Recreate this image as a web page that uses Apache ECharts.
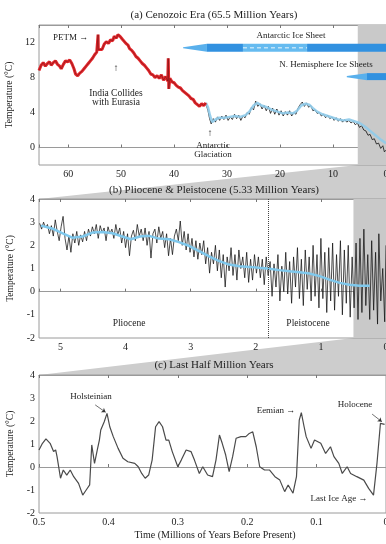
<!DOCTYPE html>
<html>
<head>
<meta charset="UTF-8">
<title>65 Myr Climate Change</title>
<script src="https://cdn.jsdelivr.net/npm/echarts@6.0.0/dist/echarts.min.js"></script>
<style>
html, body { margin: 0; padding: 0; background: #fff; }
#main { width: 386px; height: 544px; }
</style>
</head>
<body>
<div id="main"></div>
<script>
// ---------------------------------------------------------------
// data: [age (Myr before present), temperature (°C)]
// ---------------------------------------------------------------
// (a) Cenozoic, red part (65.5 - 34 Myr)
var cenozoicRed = [
  [65.5,8.8],[65.1,9.4],[64.7,9.7],[64.3,9.3],[63.9,9.6],[63.5,9.8],[63.2,9.4],[62.8,9.7],[62.4,9.9],[62.0,9.5],
  [61.6,9.3],[61.3,9.0],[60.9,9.5],[60.5,9.9],[60.1,9.8],[59.7,10.0],[59.3,9.6],[58.9,9.0],[58.6,8.4],[58.2,8.2],
  [57.8,8.5],[57.4,8.7],[57.0,9.0],[56.6,9.3],[56.2,9.6],[55.8,9.9],[55.4,10.2],[55.0,10.6],[54.6,10.9],[54.4,11.1],
  [54.35,12.9],[54.3,11.2],[54.0,11.4],[53.6,11.2],[53.2,11.8],[52.8,12.1],[52.4,11.9],[52.0,12.3],[51.6,12.2],[51.3,12.7],
  [50.9,12.5],[50.6,12.9],[50.2,12.7],[49.8,12.4],[49.5,12.3],[49.1,11.9],[48.7,11.7],[48.4,11.3],[48.0,11.1],[47.6,10.8],
  [47.2,10.4],[46.8,10.2],[46.4,9.9],[46.0,9.6],[45.6,9.4],[45.2,9.1],[44.8,8.8],[44.4,8.4],[44.0,8.3],[43.6,8.0],
  [43.2,8.2],[42.8,7.9],[42.4,8.3],[42.0,7.7],[41.6,8.1],[41.2,7.6],[41.1,10.2],[41.0,6.7],[40.8,7.9],[40.4,7.5],
  [40.0,7.4],[39.6,7.1],[39.2,6.9],[38.8,6.8],[38.4,6.5],[38.0,6.3],[37.6,6.1],[37.2,5.9],[36.8,5.6],[36.4,5.5],
  [36.0,5.1],[35.6,4.9],[35.2,4.7],[34.8,5.0],[34.4,4.8],[34.0,5.1]
];
// (a) raw points after 34 Myr
var cenozoicRaw = [
  [34.0,5.0],[33.6,4.2],[33.3,3.3],[33.0,2.7],[32.6,3.3],[32.2,2.9],[31.8,3.5],[31.4,3.1],[31.0,3.6],[30.6,3.2],
  [30.2,3.7],[29.8,3.1],[29.4,3.5],[29.0,3.2],[28.6,3.8],[28.2,3.3],[27.8,3.7],[27.4,3.1],[27.0,3.6],[26.6,3.4],
  [26.2,4.0],[25.8,3.8],[25.4,4.6],[25.0,4.3],[24.6,5.3],[24.2,4.7],[23.8,5.0],[23.4,4.4],[23.0,4.8],[22.6,4.2],
  [22.2,4.7],[21.8,3.9],[21.4,4.5],[21.0,3.8],[20.6,4.4],[20.2,3.7],[19.8,4.2],[19.4,3.6],[19.0,4.1],[18.6,3.7],
  [18.2,4.2],[17.8,3.6],[17.4,4.0],[17.0,3.8],[16.6,4.5],[16.2,4.9],[15.8,5.2],[15.4,4.7],[15.0,5.1],[14.6,4.6],
  [14.2,4.8],[13.8,4.2],[13.4,4.3],[13.0,3.9],[12.6,4.0],[12.2,3.6],[11.8,3.8],[11.4,3.4],[11.0,3.7],[10.6,3.3],
  [10.2,3.5],[9.8,3.1],[9.4,3.4],[9.0,3.0],[8.6,3.3],[8.2,2.9],[7.8,3.2],[7.4,2.9],[7.0,3.1],[6.6,2.8],
  [6.2,3.0],[5.8,2.6],[5.4,2.8],[5.0,2.3],[4.6,2.5],[4.2,2.0],[3.8,1.9],[3.4,1.4],[3.0,1.5],[2.6,0.9],
  [2.2,1.0],[1.8,0.4],[1.4,0.5],[1.0,-0.1],[0.6,0.2],[0.3,-0.5],[0.0,-0.3]
];
// (a) smoothed curve after 34 Myr
var cenozoicSmooth = [
  [34.0,5.1],[33.6,4.6],[33.2,3.6],[32.8,2.9],[32.2,3.2],[31.5,3.4],[30.5,3.4],[29.5,3.5],[28.5,3.6],[27.5,3.5],
  [26.5,3.7],[25.8,4.1],[25.0,4.8],[24.3,5.1],[23.5,4.8],[22.5,4.6],[21.5,4.3],[20.5,4.1],[19.5,3.9],[18.5,4.0],
  [17.5,3.9],[16.8,4.2],[16.0,4.8],[15.2,5.0],[14.5,4.9],[13.8,4.5],[13.0,4.1],[12.0,3.8],[11.0,3.6],[10.0,3.4],
  [9.0,3.2],[8.0,3.1],[7.0,3.2],[6.0,3.0],[5.0,2.8],[4.0,2.4],[3.0,1.9],[2.0,1.4],[1.0,0.9],[0.0,0.5]
];
// ice sheets: [from Myr, to Myr, kind]
var antarcticIce = [[38.3, 33.8, 'taper'], [33.8, 27.0, 'full'], [27.0, 14.9, 'partial'], [14.9, 0, 'full']];
var northIce = [[7.4, 3.6, 'taper'], [3.6, 0, 'full']];

// (b) Pliocene & Pleistocene raw record
var plioRaw = [
  [5.32,2.95],[5.29,2.7],[5.26,3.0],[5.23,2.75],[5.20,2.9],[5.17,2.5],[5.14,2.85],[5.11,2.4],[5.08,3.1],[5.05,2.6],
  [5.02,2.2],[4.99,2.8],[4.96,3.25],[4.93,2.3],[4.90,1.8],[4.87,2.4],[4.84,1.7],[4.81,2.5],[4.78,2.1],[4.75,2.6],
  [4.72,2.0],[4.69,2.45],[4.66,2.15],[4.63,2.6],[4.60,2.2],[4.57,2.7],[4.54,2.4],[4.51,2.8],[4.48,2.5],[4.45,2.9],
  [4.42,2.3],[4.39,2.85],[4.36,2.55],[4.33,2.75],[4.30,2.2],[4.27,2.8],[4.24,2.5],[4.21,2.7],[4.18,2.3],[4.15,2.9],
  [4.12,2.45],[4.09,2.75],[4.06,2.1],[4.03,2.6],[4.00,1.9],[3.97,2.5],[3.94,1.55],[3.91,2.4],[3.88,2.65],[3.85,2.2],
  [3.82,2.9],[3.79,2.4],[3.76,2.7],[3.73,2.2],[3.70,2.75],[3.67,2.0],[3.64,2.6],[3.61,1.45],[3.58,2.5],[3.55,2.7],
  [3.52,2.1],[3.49,2.8],[3.46,2.3],[3.43,2.6],[3.40,1.9],[3.37,2.5],[3.34,1.55],[3.31,2.3],[3.28,1.6],[3.25,2.4],
  [3.22,2.7],[3.19,2.2],[3.16,3.05],[3.13,2.0],[3.10,2.6],[3.07,1.8],[3.04,2.5],[3.01,1.7],[2.98,2.3],[2.95,1.5],
  [2.92,2.2],[2.89,1.4],[2.86,2.1],[2.83,1.6],[2.80,2.2],[2.77,1.2],[2.74,1.9],[2.71,0.8],[2.68,1.7],[2.65,1.2],
  [2.62,2.0],[2.59,0.9],[2.56,1.8],[2.53,0.6],[2.50,1.6],[2.47,0.2],[2.44,1.5],[2.41,0.9],[2.38,1.9],[2.35,0.7],
  [2.32,1.6],[2.29,0.5],[2.26,1.8],[2.23,1.0],[2.20,1.5],[2.17,0.6],[2.14,1.7],[2.11,0.4],[2.08,1.4],[2.05,0.5],
  [2.02,1.6],[1.99,0.8],[1.96,1.5],[1.93,0.6],[1.90,1.4],[1.87,0.3],[1.84,1.5],[1.81,0.7],[1.78,1.3],[1.75,-0.2],
  [1.72,1.2],[1.69,0.2],[1.66,1.6],[1.63,-0.4],[1.60,1.1],[1.57,0.0],[1.54,1.7],[1.51,-0.1],[1.48,1.3],[1.45,-0.5],
  [1.42,1.5],[1.39,0.2],[1.36,1.9],[1.33,-0.3],[1.30,1.4],[1.27,-0.6],[1.24,1.8],[1.21,0.1],[1.18,1.5],[1.15,-0.4],
  [1.12,2.0],[1.09,-0.2],[1.06,1.6],[1.03,-0.7],[1.00,2.3],[0.97,-0.3],[0.94,1.7],[0.91,-0.9],[0.88,1.9],[0.85,-0.4],
  [0.82,2.1],[0.79,-0.8],[0.76,1.6],[0.73,-0.2],[0.70,2.2],[0.67,-1.0],[0.64,1.8],[0.61,-0.5],[0.58,2.0],[0.55,-1.1],
  [0.52,1.5],[0.49,-0.7],[0.46,2.1],[0.43,-1.2],[0.40,2.3],[0.37,-0.9],[0.34,2.7],[0.31,-0.6],[0.28,1.6],[0.25,-1.2],
  [0.22,2.2],[0.19,-0.8],[0.16,1.7],[0.13,-1.4],[0.11,2.5],[0.08,-0.4],[0.05,1.0],[0.02,-1.3],[0.00,2.0]
];
// (b) smoothed curve
var plioSmooth = [
  [5.30,2.85],[5.13,2.73],[4.94,2.48],[4.82,2.33],[4.66,2.38],[4.51,2.55],[4.36,2.58],[4.20,2.52],[4.05,2.38],[3.92,2.26],
  [3.78,2.38],[3.64,2.41],[3.49,2.29],[3.33,2.26],[3.18,2.14],[3.02,1.97],[2.87,1.75],[2.71,1.51],[2.56,1.32],[2.41,1.17],
  [2.25,1.10],[2.10,1.07],[1.95,1.03],[1.79,0.99],[1.64,0.93],[1.48,0.88],[1.33,0.84],[1.17,0.78],[1.02,0.67],[0.87,0.52],
  [0.71,0.38],[0.56,0.30],[0.41,0.26],[0.25,0.26]
];
var pleistoceneStart = 1.806;

// (c) last half million years
var lastHalf = [
  [0.500,0.74],[0.495,1.03],[0.490,1.22],[0.484,1.03],[0.479,0.67],[0.476,0.74],[0.474,0.45],[0.469,-0.49],[0.465,-0.13],[0.460,-0.35],
  [0.455,-0.13],[0.450,-0.42],[0.443,-0.71],[0.437,-1.22],[0.432,-1.0],[0.427,-0.78],[0.424,0.96],[0.420,0.16],[0.418,0.45],[0.416,0.74],
  [0.413,1.17],[0.411,1.61],[0.406,1.97],[0.402,2.33],[0.398,1.75],[0.393,1.32],[0.386,0.81],[0.379,0.38],[0.372,0.23],[0.362,0.16],
  [0.357,0.01],[0.352,-0.28],[0.347,-0.49],[0.342,-0.35],[0.337,0.30],[0.332,1.75],[0.327,1.97],[0.322,1.75],[0.317,1.17],[0.313,1.17],
  [0.308,0.67],[0.300,0.01],[0.295,0.30],[0.288,0.74],[0.281,0.67],[0.276,0.30],[0.269,-0.28],[0.264,0.01],[0.257,-0.35],[0.250,-0.42],
  [0.245,0.30],[0.240,1.39],[0.236,1.03],[0.231,0.52],[0.226,-0.20],[0.221,0.45],[0.216,1.25],[0.209,1.32],[0.202,1.32],[0.197,1.46],
  [0.192,1.53],[0.187,0.88],[0.182,0.01],[0.175,-0.13],[0.168,-0.13],[0.160,-0.42],[0.153,-0.57],[0.146,-1.07],[0.141,-0.78],[0.134,-1.14],
  [0.129,-0.42],[0.125,2.04],[0.122,2.36],[0.118,1.75],[0.115,1.32],[0.108,0.81],[0.103,1.17],[0.094,1.03],[0.087,0.59],[0.080,0.88],
  [0.075,0.45],[0.068,0.16],[0.063,-0.28],[0.056,0.01],[0.051,-0.28],[0.042,-0.42],[0.032,-0.57],[0.025,-0.93],[0.018,-1.22],[0.013,0.16],
  [0.008,1.90],[0.002,1.85]
];
// arrows in (c): [from, to] in data coords
var cArrows = [
  [[0.419, 2.7], [0.404, 2.38]],
  [[0.020, 2.3], [0.006, 1.97]]
];

var serif = '"Liberation Serif", "DejaVu Serif", serif';
var axisGrey = '#9a9a9a';
var textCol = '#222';

var chart = echarts.init(document.getElementById('main'));

function xAxes(grid, max, interval, fmt) {
  var base = {
    type: 'value', gridIndex: grid, min: 0, max: max, interval: interval, inverse: true,
    axisLine: { show: true, lineStyle: { color: axisGrey, width: 1 } },
    axisTick: { show: true, inside: true, length: 3, lineStyle: { color: '#777' } },
    splitLine: { show: false }
  };
  var bottom = echarts.util.merge({
    position: 'bottom',
    axisLabel: { show: true, margin: 4, color: textCol, fontFamily: serif, fontSize: 10, formatter: fmt }
  }, base);
  var top = echarts.util.merge({ position: 'top', axisLabel: { show: false } }, base);
  return [bottom, top];
}

function yAxis(grid, min, max, interval, fmt) {
  return {
    type: 'value', gridIndex: grid, min: min, max: max, interval: interval,
    name: 'Temperature (°C)', nameLocation: 'middle', nameGap: 15, nameRotate: 90,
    nameTextStyle: { fontFamily: serif, fontSize: 9.5, color: textCol },
    axisLine: { show: true, lineStyle: { color: axisGrey } },
    axisTick: { show: true, inside: true, length: 3, lineStyle: { color: '#777' } },
    axisLabel: { margin: 4, color: textCol, fontFamily: serif, fontSize: 10, formatter: fmt },
    splitLine: { show: false }
  };
}

var kindCode = { taper: 0, full: 1, partial: 2 };
var iceData = [];
antarcticIce.forEach(function (d) { iceData.push([d[0], d[1], kindCode[d[2]], 0]); });
northIce.forEach(function (d) { iceData.push([d[0], d[1], kindCode[d[2]], 1]); });
var iceLevels = [11.4, 8.1];

var xa = xAxes(0, 65.5, 10, function (v) { return v % 10 === 0 ? String(v) : ''; });
var xb = xAxes(1, 5.33, 1, function (v) { return Number.isInteger(v) ? String(v) : ''; });
var xc = xAxes(2, 0.5, 0.1, function (v) { return v === 0 ? '0' : v.toFixed(1); });

var option = {
  animation: false,
  backgroundColor: '#fff',
  grid: [
    { left: 39, right: 0, top: 25, height: 140, outerBoundsMode: 'none', show: true, borderColor: axisGrey },
    { left: 39, right: 0, top: 199, height: 139, outerBoundsMode: 'none', show: true, borderColor: axisGrey },
    { left: 39, right: 0, top: 375, height: 138, outerBoundsMode: 'none', show: true, borderColor: axisGrey }
  ],
  xAxis: [xa[0], xa[1], xb[0], xb[1], xc[0], xc[1]],
  yAxis: [
    yAxis(0, -2, 14, 2, function (v) { return v % 4 === 0 ? String(v) : ''; }),
    yAxis(1, -2, 4, 1),
    yAxis(2, -2, 4, 1)
  ],
  series: [
    {
      type: 'custom', xAxisIndex: 0, yAxisIndex: 0, z: 3, silent: true,
      data: iceData,
      renderItem: function (params, api) {
        var row = api.value(3), kind = api.value(2);
        var lv = iceLevels[row];
        var p0 = api.coord([api.value(0), lv]);
        var p1 = api.coord([api.value(1), lv]);
        var h = row === 0 ? 8 : 7;
        if (kind === 0) {
          return {
            type: 'polygon',
            shape: { points: [[p0[0], p0[1] - 0.6], [p1[0], p1[1] - h / 2], [p1[0], p1[1] + h / 2], [p0[0], p0[1] + 0.6]] },
            style: { fill: '#59b0ec' }
          };
        }
        if (kind === 1) {
          return { type: 'rect', shape: { x: p0[0], y: p0[1] - h / 2, width: p1[0] - p0[0], height: h }, style: { fill: '#3191e0' } };
        }
        return {
          type: 'group',
          children: [
            { type: 'rect', shape: { x: p0[0], y: p0[1] - h / 2, width: p1[0] - p0[0], height: h }, style: { fill: '#66bbf0' } },
            { type: 'line', shape: { x1: p0[0], y1: p0[1], x2: p1[0], y2: p1[1] }, style: { stroke: '#bfe3f8', lineWidth: 1.5, lineDash: [4, 3] } }
          ]
        };
      }
    },
    {
      type: 'line', xAxisIndex: 0, yAxisIndex: 0, data: cenozoicRaw, showSymbol: false, z: 2,
      lineStyle: { color: '#111', width: 0.8 },
      markArea: { silent: true, itemStyle: { color: '#c9c9c9' }, data: [[{ xAxis: 5.33 }, { xAxis: 0 }]] }
    },
    {
      type: 'line', xAxisIndex: 0, yAxisIndex: 0, data: cenozoicSmooth, showSymbol: false, z: 4,
      lineStyle: { color: '#8fcbea', width: 2.5, opacity: 0.9 }
    },
    {
      type: 'line', xAxisIndex: 0, yAxisIndex: 0, data: cenozoicRed, showSymbol: false, z: 4,
      lineStyle: { color: '#e3262b', width: 3 }
    },
    {
      type: 'line', xAxisIndex: 0, yAxisIndex: 0, data: cenozoicRed, showSymbol: false, z: 5,
      lineStyle: { color: '#3a0808', width: 0.5, opacity: 0.7 }
    },
    {
      type: 'line', xAxisIndex: 2, yAxisIndex: 1, data: plioRaw, showSymbol: false, z: 2,
      lineStyle: { color: '#111', width: 0.75 },
      markArea: { silent: true, itemStyle: { color: '#c9c9c9' }, data: [[{ xAxis: 0.5 }, { xAxis: 0 }]] },
      markLine: {
        silent: true, symbol: 'none', label: { show: false },
        lineStyle: { color: '#444', type: 'dotted', width: 1 },
        data: [{ xAxis: pleistoceneStart }]
      }
    },
    {
      type: 'line', xAxisIndex: 2, yAxisIndex: 1, data: plioSmooth, showSymbol: false, z: 4,
      lineStyle: { color: '#7fc8ec', width: 2.5 }
    },
    {
      type: 'line', xAxisIndex: 4, yAxisIndex: 2, data: lastHalf, showSymbol: false, z: 3,
      lineStyle: { color: '#4a4a4a', width: 1.2 },
      markLine: {
        silent: true, symbol: ['none', 'arrow'], symbolSize: 4, label: { show: false },
        lineStyle: { color: '#333', type: 'solid', width: 0.7 },
        data: cArrows.map(function (a) { return [{ coord: a[0] }, { coord: a[1] }]; })
      }
    }
  ]
};
chart.setOption(option);

// grey "zoom" wedges between panels
function px(xi, yi, pt) { return chart.convertToPixel({ xAxisIndex: xi, yAxisIndex: yi }, pt); }
var wedgeAB = [px(0, 0, [5.33, -2]), px(0, 0, [0, -2]), px(2, 1, [0, 4]), px(2, 1, [5.33, 4])];
var wedgeBC = [px(2, 1, [0.5, -2]), px(2, 1, [0, -2]), px(4, 2, [0, 4]), px(4, 2, [0.5, 4])];

function label(txt, x, y, size, align) {
  return {
    type: 'text', x: x, y: y, z: 10, silent: true,
    style: { text: txt, fontFamily: serif, fontSize: size || 9, fill: textCol, align: align || 'center', verticalAlign: 'middle' }
  };
}

chart.setOption({
  graphic: [
    { type: 'polygon', z: -1, silent: true, shape: { points: wedgeAB }, style: { fill: '#cdcdcd' } },
    { type: 'polygon', z: -1, silent: true, shape: { points: wedgeBC }, style: { fill: '#cdcdcd' } },
    label('(a) Cenozoic Era (65.5 Million Years)', 214, 15, 11),
    label('(b) Pliocene & Pleistocene (5.33 Million Years)', 214, 190, 11),
    label('(c) Last Half Million Years', 214, 365, 11),
    label('PETM →', 53, 38, 9, 'left'),
    label('↑', 116, 68, 10),
    label('India Collides', 116, 93, 9.5),
    label('with Eurasia', 116, 102, 9.5),
    label('↑', 210, 133, 10),
    label('Antarctic', 213, 146, 9),
    label('Glaciation', 213, 155, 9),
    label('Antarctic Ice Sheet', 291, 36, 9),
    label('N. Hemisphere Ice Sheets', 326, 65, 9),
    label('Pliocene', 129, 323, 9.5),
    label('Pleistocene', 308, 323, 9.5),
    label('Holsteinian', 91, 397, 9),
    label('Eemian →', 276, 411, 9),
    label('Holocene', 355, 405, 9),
    label('Last Ice Age →', 339, 499, 9),
    label('Time (Millions of Years Before Present)', 215, 535, 10)
  ]
});
</script>
</body>
</html>
